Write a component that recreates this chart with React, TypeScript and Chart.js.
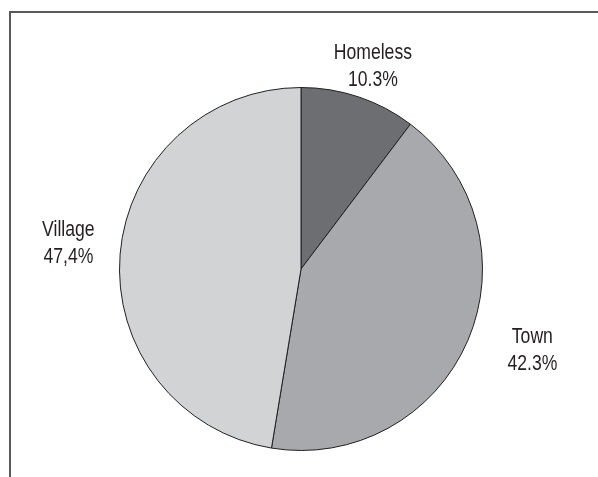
import React, { useEffect, useRef } from "react";
import { Chart, registerables } from "chart.js";

Chart.register(...registerables);

const categories = ["Homeless", "Town", "Village"];
const shares = [10.3, 42.3, 47.4];
const shareLabels = ["10.3%", "42.3%", "47,4%"];
const sliceColors = ["#6d6e71", "#a7a9ac", "#d1d3d4"];

// label layout: distance from centre relative to radius, and small angle shift (deg)
const labelRadiusFactor = [1.19, 1.35, 1.29];
const labelAngleShift = [0.9, -4, 1.8];

const FONT = '"Liberation Sans", Arial, sans-serif';

const framePlugin = {
  id: "frame",
  beforeDraw(chart: any) {
    const ctx = chart.ctx;
    ctx.save();
    ctx.fillStyle = "#58595b";
    ctx.fillRect(9, 11, chart.width - 9, 2);
    ctx.fillRect(9, 11, 2, chart.height - 11);
    ctx.restore();
  },
};

const labelPlugin = {
  id: "sliceLabels",
  afterDatasetsDraw(chart: any) {
    const ctx = chart.ctx;
    const meta = chart.getDatasetMeta(0);
    meta.data.forEach((arc: any, i: number) => {
      const { x, y, startAngle, endAngle, outerRadius } = arc.getProps(
        ["x", "y", "startAngle", "endAngle", "outerRadius"],
        true
      );
      const mid = (startAngle + endAngle) / 2 + (labelAngleShift[i] * Math.PI) / 180;
      const r = outerRadius * labelRadiusFactor[i];
      const cx = x + Math.cos(mid) * r;
      const cy = y + Math.sin(mid) * r;
      ctx.save();
      ctx.translate(cx, cy);
      ctx.scale(0.8, 1);
      ctx.font = `22px ${FONT}`;
      ctx.fillStyle = "#231f20";
      ctx.textAlign = "center";
      ctx.textBaseline = "alphabetic";
      ctx.fillText(categories[i], 0, -6.5);
      ctx.fillText(shareLabels[i], 0, 20.5);
      ctx.restore();
    });
  },
};

export default function App() {
  const ref = useRef<HTMLCanvasElement | null>(null);
  useEffect(() => {
    if (!ref.current) return;
    const chart = new Chart(ref.current, {
      type: "pie",
      data: {
        labels: categories,
        datasets: [
          {
            data: shares,
            backgroundColor: sliceColors,
            borderColor: "#231f20",
            borderWidth: 1,
          },
        ],
      },
      options: {
        responsive: false,
        animation: false,
        layout: { padding: { left: 119, right: 115, top: 87, bottom: 26 } },
        plugins: {
          legend: { display: false },
          tooltip: { enabled: false },
        },
      },
      plugins: [framePlugin, labelPlugin],
    });
    return () => chart.destroy();
  }, []);
  return (
    <div style={{ position: "fixed", left: 0, top: 0, width: 598, height: 477, background: "#fff" }}>
      <canvas ref={ref} width={598} height={477} style={{ display: "block" }} />
    </div>
  );
}
